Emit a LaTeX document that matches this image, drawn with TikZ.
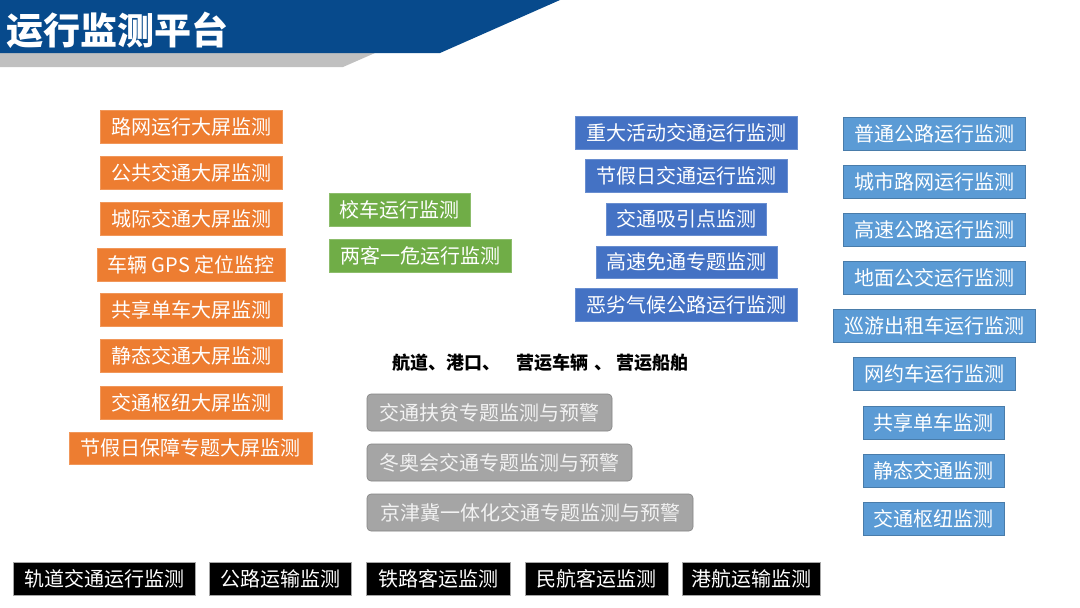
\documentclass[tikz,border=0pt]{standalone}
\usepackage{fontspec}
\newfontfamily\cjk{Noto Sans CJK SC}
\definecolor{hdrblue}{HTML}{074A8C}
\definecolor{hdrgray}{HTML}{C0C0C0}
\definecolor{myorange}{HTML}{ED7D31}
\definecolor{mygreen}{HTML}{70AD47}
\definecolor{mydblue}{HTML}{4472C4}
\definecolor{mylblue}{HTML}{5B9BD5}
\definecolor{mygray}{HTML}{A5A5A5}
\begin{document}
\begin{tikzpicture}[x=1pt,y=-1pt,
  base/.style={inner sep=0pt, minimum height=33pt, text=white, line width=0.6pt,
    font=\cjk\fontsize{20}{20}\selectfont},
  orangebox/.style={base, fill=myorange, draw=myorange!80!white},
  greenbox/.style={base, fill=mygreen, draw=mygreen!80!white},
  dbluebox/.style={base, fill=mydblue, draw=mydblue!80!white},
  lbluebox/.style={base, fill=mylblue, draw=mylblue!80!black},
  graybox/.style={base, minimum height=37pt, fill=mygray, draw=mygray!80!black,
    rounded corners=4pt, text=white!95!black},
  blackbox/.style={base, fill=black, draw=gray!70},
  hdrtext/.style={inner sep=0pt, anchor=west, text=white,
    font=\cjk\bfseries\fontsize{37}{37}\selectfont},
  notetext/.style={inner sep=0pt, anchor=west, text=black,
    font=\cjk\bfseries\fontsize{18}{18}\selectfont}
]
\useasboundingbox (0,0) rectangle (1080,608);
\fill[white] (0,0) rectangle (1080,608);
% header
\fill[hdrgray] (0,53) -- (375,53) -- (343,67) -- (0,67) -- cycle;
\fill[hdrblue] (0,0) -- (560,0) -- (440,53) -- (0,53) -- cycle;
\node[hdrtext] (title) at (6,30) {运行监测平台};

% orange column
\node[orangebox, minimum width=182pt] (o1) at (191,126.5) {路网运行大屏监测};
\node[orangebox, minimum width=182pt] (o2) at (191,172.5) {公共交通大屏监测};
\node[orangebox, minimum width=182pt] (o3) at (191,218.5) {城际交通大屏监测};
\node[orangebox, minimum width=188pt] (o4) at (191,264.5) {车辆 GPS 定位监控};
\node[orangebox, minimum width=182pt] (o5) at (191,310) {共享单车大屏监测};
\node[orangebox, minimum width=182pt] (o6) at (191,356) {静态交通大屏监测};
\node[orangebox, minimum width=182pt] (o7) at (191,402.5) {交通枢纽大屏监测};
\node[orangebox, minimum width=243pt, minimum height=32pt] (o8) at (190.5,448) {节假日保障专题大屏监测};

% green
\node[greenbox, minimum width=141pt] (g1) at (399.5,210) {校车运行监测};
\node[greenbox, minimum width=182pt] (g2) at (420,255.5) {两客一危运行监测};

% dark blue column
\node[dbluebox, minimum width=222pt] (b1) at (686,132.5) {重大活动交通运行监测};
\node[dbluebox, minimum width=202pt] (b2) at (686,176) {节假日交通运行监测};
\node[dbluebox, minimum width=160pt, minimum height=32pt] (b3) at (686,219) {交通吸引点监测};
\node[dbluebox, minimum width=181pt, minimum height=32pt] (b4) at (686.5,262) {高速免通专题监测};
\node[dbluebox, minimum width=222pt] (b5) at (686,304.5) {恶劣气候公路运行监测};

% light blue column
\node[lbluebox, minimum width=182pt] (c1) at (934,133.5) {普通公路运行监测};
\node[lbluebox, minimum width=182pt] (c2) at (934,181.5) {城市路网运行监测};
\node[lbluebox, minimum width=182pt] (c3) at (934,230) {高速公路运行监测};
\node[lbluebox, minimum width=182pt] (c4) at (934,277.5) {地面公交运行监测};
\node[lbluebox, minimum width=202pt] (c5) at (934,325.5) {巡游出租车运行监测};
\node[lbluebox, minimum width=162pt] (c6) at (934,374) {网约车运行监测};
\node[lbluebox, minimum width=141pt] (c7) at (933.5,422.5) {共享单车监测};
\node[lbluebox, minimum width=141pt] (c8) at (933.5,471) {静态交通监测};
\node[lbluebox, minimum width=141pt] (c9) at (933.5,519) {交通枢纽监测};

% note line
\node[notetext] (note) at (392,363) {航道、港口、\hspace{16pt}营运车辆\hspace{6pt}、\hspace{4pt}营运船舶};

% gray rounded boxes
\node[graybox, minimum width=245pt] (r1) at (489.5,412.5) {交通扶贫专题监测与预警};
\node[graybox, minimum width=265pt] (r2) at (499.5,462.5) {冬奥会交通专题监测与预警};
\node[graybox, minimum width=326pt] (r3) at (530,512.5) {京津冀一体化交通专题监测与预警};

% black bottom row
\node[blackbox, minimum width=182pt] (k1) at (104,578.5) {轨道交通运行监测};
\node[blackbox, minimum width=142pt] (k2) at (280,578.5) {公路运输监测};
\node[blackbox, minimum width=144pt] (k3) at (438,578.5) {铁路客运监测};
\node[blackbox, minimum width=143pt] (k4) at (596.5,578.5) {民航客运监测};
\node[blackbox, minimum width=138pt] (k5) at (751,578.5) {港航运输监测};
\end{tikzpicture}
\end{document}
